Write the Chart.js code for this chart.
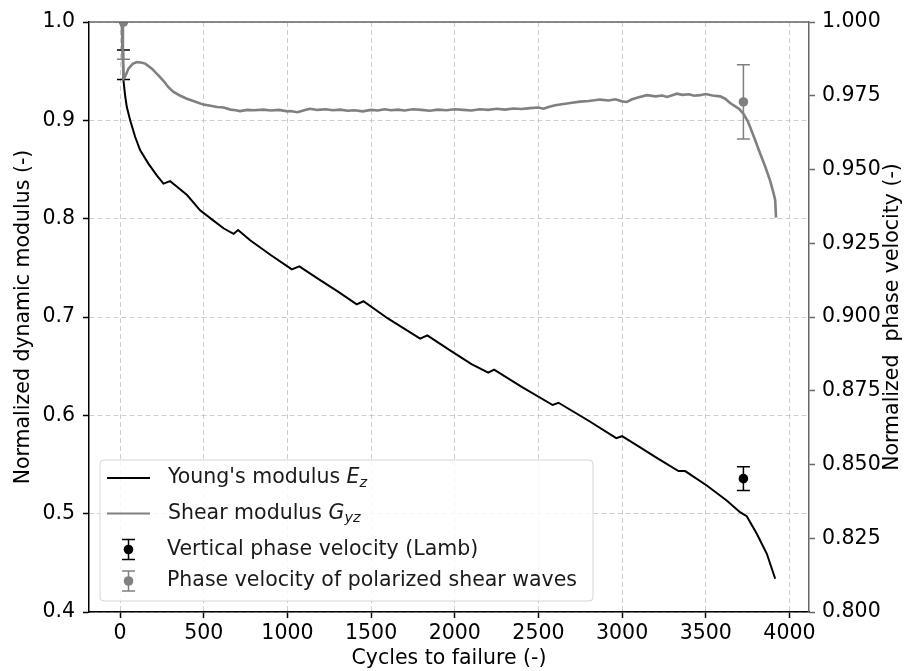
<!DOCTYPE html>
<html>
<head>
<meta charset="utf-8">
<title>Normalized modulus vs cycles</title>
<script src="https://cdn.jsdelivr.net/npm/chart.js@4/dist/chart.umd.min.js"></script>
<style>
  body { margin: 0; background: #fff; }
</style>
</head>
<body>
<canvas id="myChart" width="912" height="671"></canvas>
<script>
// ************* data *************

// Young's modulus Ez (left axis)
const ezX = [10, 20, 30, 40, 60, 90, 120, 169, 219, 259, 299, 340, 400, 478, 550, 620, 678, 705, 777, 900,
             1026, 1071, 1200, 1300, 1414, 1454, 1600, 1700, 1793, 1836, 1972, 2100, 2200, 2235, 2400, 2585,
             2620, 2800, 2965, 3000, 3108, 3200, 3337, 3377, 3506, 3625, 3705, 3745, 3805, 3865, 3915];
const ezY = [1.0, 0.9407, 0.925, 0.9135, 0.900, 0.883, 0.8695, 0.856, 0.844, 0.8356, 0.8382, 0.8325, 0.824, 0.8085,
             0.799, 0.790, 0.7845, 0.7885, 0.778, 0.763, 0.7484, 0.7515, 0.737, 0.726, 0.7128, 0.716, 0.6985, 0.688,
             0.678, 0.6813, 0.666, 0.652, 0.6435, 0.6465, 0.629, 0.6105, 0.6128, 0.5945, 0.5768, 0.5788, 0.5675,
             0.5575, 0.5433, 0.5433, 0.5287, 0.5134, 0.5015, 0.4974, 0.4795, 0.4592, 0.4338];

// Shear modulus Gyz (right axis)
const gyzX = [10, 15, 20, 30, 50, 75, 100, 125, 150, 190, 229, 260, 290, 319, 360, 399, 450, 498, 540, 580,
              618, 660, 690, 717, 760, 800, 857, 900, 950, 1000, 1016, 1060, 1100, 1135, 1180, 1230, 1270, 1315,
              1360, 1400, 1450, 1500, 1540, 1580, 1620, 1660, 1700, 1750, 1800, 1850, 1900, 1950, 2000, 2050,
              2100, 2150, 2200, 2250, 2300, 2350, 2400, 2450, 2500, 2530, 2560, 2600, 2650, 2700, 2750, 2800,
              2869, 2920, 2960, 3000, 3028, 3060, 3100, 3148, 3200, 3240, 3268, 3300, 3327, 3360, 3400, 3430,
              3466, 3500, 3540, 3586, 3616, 3640, 3665, 3700, 3725, 3750, 3765, 3795, 3825, 3855, 3884, 3905,
              3915, 3920];
const gyzY = [1.0, 0.990, 0.9808, 0.9815, 0.9842, 0.9858, 0.9864, 0.9863, 0.9859, 0.9842, 0.9819, 0.9800, 0.9778,
              0.9763, 0.9750, 0.9740, 0.9730, 0.9720, 0.9716, 0.9712, 0.9710, 0.9703, 0.9701, 0.9698, 0.9702,
              0.9701, 0.9703, 0.9700, 0.9702, 0.9697, 0.9698, 0.9694, 0.9701, 0.9706, 0.9702, 0.9704, 0.9701,
              0.9703, 0.9699, 0.9701, 0.9697, 0.9702, 0.9700, 0.9704, 0.9701, 0.9703, 0.9700, 0.9704, 0.9702,
              0.9699, 0.9703, 0.9701, 0.9704, 0.9702, 0.9700, 0.9704, 0.9702, 0.9706, 0.9703, 0.9707, 0.9705,
              0.9708, 0.9710, 0.9706, 0.9712, 0.9718, 0.9722, 0.9726, 0.9730, 0.9732, 0.9737, 0.9734, 0.9738,
              0.9731, 0.9729, 0.9738, 0.9745, 0.9752, 0.9748, 0.9751, 0.9746, 0.9752, 0.9757, 0.9753, 0.9755,
              0.9750, 0.9752, 0.9756, 0.9751, 0.9748, 0.9740, 0.9728, 0.9718, 0.9705, 0.9689, 0.9665, 0.9644,
              0.9600, 0.9554, 0.9510, 0.9463, 0.9420, 0.9396, 0.9337];

// measured points with error bars (right axis)
const lambX = [20, 3725];
const lambY = [0.9855, 0.8452];
const lambErr = [0.005, 0.004];

const shearX = [20, 3725];
const shearY = [1.0, 0.9729];
const shearErr = [0.0126, 0.0126];

// tick labels
const xTicks = [0, 500, 1000, 1500, 2000, 2500, 3000, 3500, 4000];
const yTicks = [0.4, 0.5, 0.6, 0.7, 0.8, 0.9, 1.0];
const y2Ticks = [0.8, 0.825, 0.85, 0.875, 0.9, 0.925, 0.95, 0.975, 1.0];

const legendLabels = ["Young's modulus ", "Shear modulus ", "Vertical phase velocity (Lamb)", "Phase velocity of polarized shear waves"];
const rightTitle = 'Normalized  phase velocity (-)';

// ************* helpers *************

function toPoints(xs, ys) {
  return xs.map(function (x, i) { return { x: x, y: ys[i] }; });
}

const FONT = 'DejaVu Sans';
const FSIZE = 20.5;
const GRAY = '#808080';
const GRID = 'rgba(190,190,190,0.75)';

// error bars are drawn under the markers of the dataset that owns them
const errorBarPlugin = {
  id: 'errorBars',
  beforeDatasetDraw(chart, args) {
    const ds = chart.data.datasets[args.index];
    if (!ds.yErr) return;
    const meta = args.meta;
    const ctx = chart.ctx;
    const area = chart.chartArea;
    ctx.save();
    ctx.beginPath();
    ctx.rect(area.left, area.top, area.right - area.left, area.bottom - area.top);
    ctx.clip();
    ctx.strokeStyle = ds.backgroundColor;
    ctx.lineWidth = 1.5;
    ds.data.forEach(function (p, i) {
      const px = meta.xScale.getPixelForValue(p.x);
      const top = meta.yScale.getPixelForValue(p.y + ds.yErr[i]);
      const bot = meta.yScale.getPixelForValue(p.y - ds.yErr[i]);
      ctx.beginPath();
      ctx.moveTo(px, top); ctx.lineTo(px, bot);
      ctx.moveTo(px - 6.5, top); ctx.lineTo(px + 6.5, top);
      ctx.moveTo(px - 6.5, bot); ctx.lineTo(px + 6.5, bot);
      ctx.stroke();
    });
    ctx.restore();
  }
};

// text with an italic symbol and subscript, like matplotlib mathtext
function drawRich(ctx, parts, x, y) {
  parts.forEach(function (p) {
    ctx.font = (p.italic ? 'italic ' : '') + (p.sub ? 14.5 : FSIZE) + 'px "' + FONT + '"';
    ctx.fillText(p.t, x, y + (p.sub ? 5 : 0));
    x += ctx.measureText(p.t).width;
  });
}

function drawErrMarker(ctx, x, y, color) {
  ctx.strokeStyle = color;
  ctx.fillStyle = color;
  ctx.lineWidth = 1.5;
  ctx.beginPath();
  ctx.moveTo(x, y - 10); ctx.lineTo(x, y + 10);
  ctx.moveTo(x - 6.5, y - 10); ctx.lineTo(x + 6.5, y - 10);
  ctx.moveTo(x - 6.5, y + 10); ctx.lineTo(x + 6.5, y + 10);
  ctx.stroke();
  ctx.beginPath();
  ctx.arc(x, y, 4.8, 0, Math.PI * 2);
  ctx.fill();
}

// top spine, right axis title (reads bottom to top) and legend box inside the plot
const framePlugin = {
  id: 'frameLegend',
  afterDraw(chart) {
    const ctx = chart.ctx;
    const a = chart.chartArea;
    ctx.save();
    ctx.strokeStyle = '#666';
    ctx.lineWidth = 1.5;
    ctx.beginPath();
    ctx.moveTo(a.left, a.top); ctx.lineTo(a.right, a.top);
    ctx.stroke();

    // right axis label
    ctx.save();
    ctx.translate(893, (a.top + a.bottom) / 2);
    ctx.rotate(-Math.PI / 2);
    ctx.font = FSIZE + 'px "' + FONT + '"';
    ctx.fillStyle = '#000';
    ctx.textAlign = 'center';
    ctx.textBaseline = 'middle';
    ctx.fillText(rightTitle, 0, 0);
    ctx.restore();

    const bx = a.left + 11, by = a.bottom - 152, bw = 493, bh = 141;
    ctx.beginPath();
    ctx.roundRect(bx, by, bw, bh, 4);
    ctx.fillStyle = 'rgba(255,255,255,0.85)';
    ctx.fill();
    ctx.strokeStyle = '#d6d6d6';
    ctx.lineWidth = 1;
    ctx.stroke();

    const rows = [by + 18, by + 53.5, by + 89.5, by + 121];
    // line samples
    ctx.lineWidth = 2;
    ctx.strokeStyle = '#000';
    ctx.beginPath(); ctx.moveTo(bx + 7, rows[0]); ctx.lineTo(bx + 50, rows[0]); ctx.stroke();
    ctx.strokeStyle = GRAY;
    ctx.beginPath(); ctx.moveTo(bx + 7, rows[1]); ctx.lineTo(bx + 50, rows[1]); ctx.stroke();
    drawErrMarker(ctx, bx + 28.5, rows[2], '#000');
    drawErrMarker(ctx, bx + 28.5, rows[3], GRAY);

    ctx.fillStyle = '#1a1a1a';
    ctx.textBaseline = 'middle';
    ctx.textAlign = 'left';
    drawRich(ctx, [{ t: legendLabels[0] }, { t: 'E', italic: true }, { t: 'z', italic: true, sub: true }], bx + 68, rows[0]);
    drawRich(ctx, [{ t: legendLabels[1] }, { t: 'G', italic: true }, { t: 'yz', italic: true, sub: true }], bx + 68, rows[1]);
    drawRich(ctx, [{ t: legendLabels[2] }], bx + 67, rows[2]);
    drawRich(ctx, [{ t: legendLabels[3] }], bx + 67, rows[3]);
    ctx.restore();
  }
};

// ************* chart *************

const tickFont = { family: FONT, size: FSIZE };

const ctx = document.getElementById('myChart').getContext('2d');
const myChart = new Chart(ctx, {
  type: 'scatter',
  data: {
    datasets: [
      {
        label: 'Phase velocity of polarized shear waves',
        data: toPoints(shearX, shearY),
        yErr: shearErr,
        yAxisID: 'y2',
        backgroundColor: GRAY,
        borderColor: GRAY,
        pointRadius: 4.8,
        pointBorderWidth: 0,
        clip: 0,
        order: 1
      },
      {
        label: 'Shear modulus Gyz',
        data: toPoints(gyzX, gyzY),
        yAxisID: 'y2',
        showLine: true,
        borderColor: GRAY,
        backgroundColor: GRAY,
        borderWidth: 2.6,
        pointRadius: 0,
        clip: 0,
        order: 2
      },
      {
        label: 'Vertical phase velocity (Lamb)',
        data: toPoints(lambX, lambY),
        yErr: lambErr,
        yAxisID: 'y2',
        backgroundColor: '#000',
        borderColor: '#000',
        pointRadius: [0, 4.8],   // the first marker sits hidden behind the grey curve
        pointBorderWidth: 0,
        clip: 0,
        order: 3
      },
      {
        label: "Young's modulus Ez",
        data: toPoints(ezX, ezY),
        yAxisID: 'y',
        showLine: true,
        borderColor: '#000',
        backgroundColor: '#000',
        borderWidth: 2,
        pointRadius: 0,
        clip: 0,
        order: 4
      }
    ]
  },
  plugins: [errorBarPlugin, framePlugin],
  options: {
    responsive: false,
    devicePixelRatio: 1,
    animation: false,
    layout: { padding: { top: 22, left: 0, right: 0, bottom: 0 } },
    plugins: { legend: { display: false }, tooltip: { enabled: false } },
    scales: {
      x: {
        type: 'linear',
        min: -186,
        max: 4117,
        afterBuildTicks: function (s) { s.ticks = xTicks.map(function (v) { return { value: v }; }); },
        afterFit: function (s) { s.height = 59; },
        ticks: { font: tickFont, color: '#000', padding: 3, maxRotation: 0, autoSkip: false,
                 callback: function (v) { return String(v); } },
        grid: { color: GRID, lineWidth: 1, tickLength: 6, tickColor: '#000', tickWidth: 1.5, tickBorderDash: [] },
        border: { color: '#000', width: 1.5, dash: [5, 3] },
        title: { display: true, text: 'Cycles to failure (-)', color: '#000', font: tickFont, padding: { top: 0, bottom: 0 } }
      },
      y: {
        type: 'linear',
        position: 'left',
        min: 0.4,
        max: 1.0,
        afterBuildTicks: function (s) { s.ticks = yTicks.map(function (v) { return { value: v }; }); },
        afterFit: function (s) { s.width = 89; },
        ticks: { font: tickFont, color: '#000', padding: 8, callback: function (v) { return v.toFixed(1); } },
        grid: { color: GRID, lineWidth: 1, tickLength: 6, tickColor: '#000', tickWidth: 1.5, tickBorderDash: [] },
        border: { color: '#000', width: 1.5, dash: [5, 3] },
        title: { display: true, text: 'Normalized dynamic modulus (-)', color: '#000', font: tickFont, padding: { top: 11.5, bottom: 0 } }
      },
      y2: {
        type: 'linear',
        position: 'right',
        min: 0.8,
        max: 1.0,
        afterBuildTicks: function (s) { s.ticks = y2Ticks.map(function (v) { return { value: v }; }); },
        afterFit: function (s) { s.width = 103; },
        ticks: { font: tickFont, color: '#000', padding: 7, callback: function (v) { return v.toFixed(3); } },
        grid: { drawOnChartArea: false, tickLength: 6, tickColor: '#666', tickWidth: 1.5 },
        border: { color: '#666', width: 1.5 },
        title: { display: false }
      }
    }
  }
});
</script>
</body>
</html>
